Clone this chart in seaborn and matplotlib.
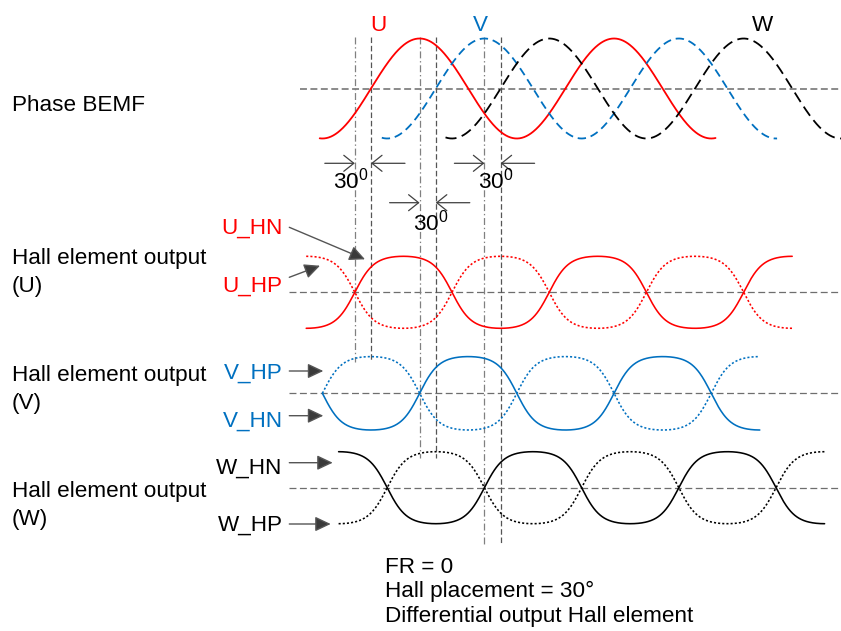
import numpy as np
import pandas as pd
import matplotlib
matplotlib.use("Agg")
import matplotlib.pyplot as plt
import seaborn as sns

# electrical angle in degrees, 0 = rising zero crossing of phase U BEMF
phases = ["U", "V", "W"]
phase_colors = ["#ff0000", "#0070c0", "#000000"]
bemf_shift = [0, 120, 240]
bemf_start = [-95, 20, 138]
bemf_end = [638, 752, 885]
bemf_styles = ["-", (0, (6, 3.5)), (0, (8, 4))]

# Hall outputs lead the BEMF by 30 deg (rising crossing of *_HN)
hall_rise = [-30, 90, 210]
hall_start = [-120, -90, -60]
hall_end = [780, 720, 840]
hall_titles = ["Hall element output\n(U)", "Hall element output\n(V)", "Hall element output\n(W)"]
hall_labels = [["U_HN", "U_HP"], ["V_HP", "V_HN"], ["W_HN", "W_HP"]]

# guide lines: Hall crossing (dash-dot) and BEMF crossing (dashed)
marker_angles = [-30, 0, 90, 120, 210, 240]
marker_kind = ["hall", "bemf", "hall", "bemf", "hall", "bemf"]
gap_pairs = [(-30, 0), (90, 120), (210, 240)]
gap_label = "30$^{\\mathrm{0}}$"

notes = ["FR = 0", "Hall placement = 30°", "Differential output Hall element"]

# ---- layout (pixels) ----
X0, PX_PER_DEG = 371, 0.54


def px(x):
    return (x - X0) / PX_PER_DEG


bemf_mid, bemf_amp = 88.5, 50
hall_mid = [292.3, 393.3, 487.7]
hall_amp = [36, 36.7, 36]
marker_bottom = [362, 362, 458, 458, 545, 545]
gap_y = [163.3, 202.7, 163.3]
gap_text = [(333, 188.3), (413.3, 230), (478.3, 188.3)]
K = 1.5

sns.set_theme(style="white")
plt.rcParams["font.family"] = ["Liberation Sans", "DejaVu Sans"]
plt.rcParams["text.color"] = "black"
plt.rcParams["mathtext.fontset"] = "custom"
plt.rcParams["mathtext.rm"] = "Liberation Sans"
plt.rcParams["lines.scale_dashes"] = False
FS = 16.2

fig = plt.figure(figsize=(8.41, 6.31), dpi=100)
ax = fig.add_axes([0, 0, 1, 1])

# midlines
ax.plot([px(300), px(841)], [bemf_mid, bemf_mid], color="#8a8a8a", lw=1.4, ls=(0, (5, 2.5)))
for m in hall_mid:
    ax.plot([px(289), px(841)], [m, m], color="#6e6e6e", lw=0.9, ls=(0, (5, 2.5)))

# vertical guides
for a, kind, yb in zip(marker_angles, marker_kind, marker_bottom):
    if kind == "hall":
        ax.plot([a, a], [37, yb], color="#808080", lw=0.9, ls=(0, (5, 2, 1, 2)))
    else:
        ax.plot([a, a], [37, yb], color="#555555", lw=0.9, ls=(0, (4, 2)))

# phase BEMF
for name, c, sh, s, e, ls in zip(phases, phase_colors, bemf_shift, bemf_start, bemf_end, bemf_styles):
    th = np.linspace(s, e, 700)
    df = pd.DataFrame({"angle": th, "y": bemf_mid - bemf_amp * np.sin(np.radians(th - sh))})
    sns.lineplot(data=df, x="angle", y="y", ax=ax, color=c, linestyle=ls, linewidth=1.3,
                 errorbar=None, sort=False)

# hall element outputs
for i in range(3):
    th = np.linspace(hall_start[i], hall_end[i], 700)
    f = np.tanh(K * np.sin(np.radians(th - hall_rise[i]))) / np.tanh(K)
    df = pd.DataFrame({"angle": th, "HN": hall_mid[i] - hall_amp[i] * f,
                       "HP": hall_mid[i] + hall_amp[i] * f})
    sns.lineplot(data=df, x="angle", y="HN", ax=ax, color=phase_colors[i], linewidth=1.15,
                 errorbar=None, sort=False)
    sns.lineplot(data=df, x="angle", y="HP", ax=ax, color=phase_colors[i], linewidth=1.15,
                 linestyle=(0, (1.5, 1.5)), errorbar=None, sort=False)

# 30 deg spacing markers
open_arrow = dict(arrowstyle="->,head_length=0.5,head_width=0.4", color="#404040", lw=0.9,
                  shrinkA=0, shrinkB=0, mutation_scale=14.4)
for (a, b), y, (tx, ty) in zip(gap_pairs, gap_y, gap_text):
    ax.annotate("", xy=(a, y), xytext=(a - 30 / PX_PER_DEG, y), arrowprops=open_arrow)
    ax.annotate("", xy=(b, y), xytext=(b + 34 / PX_PER_DEG, y), arrowprops=open_arrow)
    ax.text(px(tx), ty, gap_label, fontsize=FS, ha="left", va="baseline", color="black")

# texts
ax.text(px(378), 31, "U", color=phase_colors[0], fontsize=FS, ha="center", va="baseline")
ax.text(px(480), 31, "V", color=phase_colors[1], fontsize=FS, ha="center", va="baseline")
ax.text(px(763), 31, "W", color=phase_colors[2], fontsize=FS, ha="center", va="baseline")
ax.text(px(11.7), 110.7, "Phase BEMF", fontsize=FS, ha="left", va="baseline", color="black")

title_base = [264.3, 381, 496.7]
for t, yb in zip(hall_titles, title_base):
    l1, l2 = t.split("\n")
    ax.text(px(11.7), yb, l1, fontsize=FS, ha="left", va="baseline", color="black")
    ax.text(px(11.7), yb + 28, l2, fontsize=FS, ha="left", va="baseline", color="black")

label_base = [[234, 291.7], [379, 426.7], [473.3, 531]]
arrow_tail = [[(289.3, 227.3), (289.3, 277.3)], [(289.3, 371), (289.3, 415.7)],
              [(289.3, 462.7), (289.3, 524)]]
arrow_tip = [[(365, 259.3), (320, 265.7)], [(323.3, 371), (323.3, 415.7)],
             [(332.7, 462.7), (330.7, 524)]]
filled_arrow = dict(arrowstyle="-|>,head_length=0.95,head_width=0.45", color="#555555",
                    fc="#3a3a3a", lw=1.0, shrinkA=0, shrinkB=0, mutation_scale=10)
for i in range(3):
    for j in range(2):
        ax.text(px(282.7), label_base[i][j], hall_labels[i][j], color=phase_colors[i],
                fontsize=FS, ha="right", va="baseline")
        (x1, y1), (x2, y2) = arrow_tail[i][j], arrow_tip[i][j]
        ax.annotate("", xy=(px(x2), y2), xytext=(px(x1), y1), arrowprops=filled_arrow)

for k, note in enumerate(notes):
    ax.text(px(385), 573.3 + 24.2 * k, note, fontsize=FS, ha="left", va="baseline", color="black")

ax.set_xlim(px(0), px(841))
ax.set_ylim(631, 0)
ax.axis("off")

fig.savefig("out.png", dpi=100)
